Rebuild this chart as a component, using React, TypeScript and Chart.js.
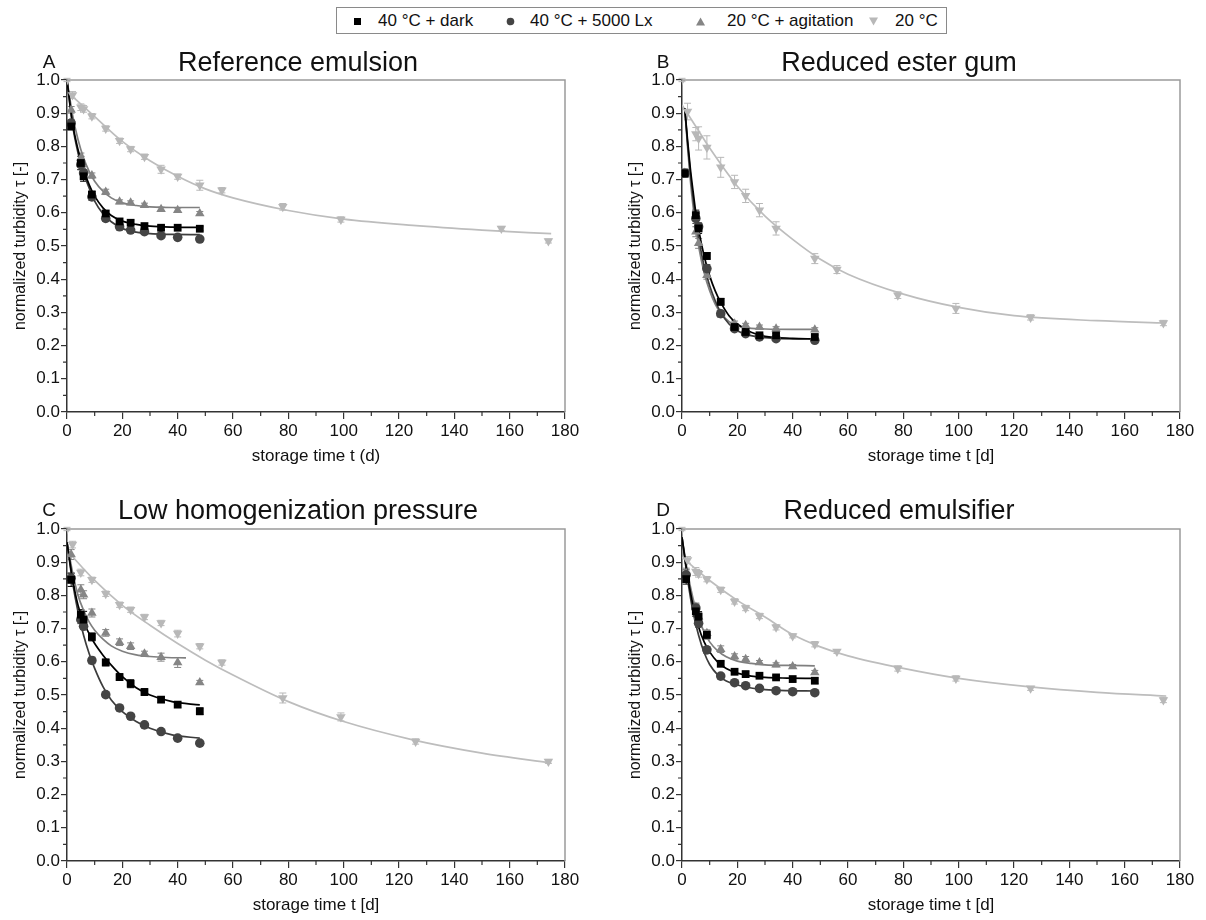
import React, { useEffect, useRef } from "react";
import { Chart, registerables } from "chart.js";
Chart.register(...registerables);

const FONT = '"Liberation Sans", Arial, Helvetica, sans-serif';

// ---------- shared ----------
const SERIES = ["40 °C + dark", "40 °C + 5000 Lx", "20 °C + agitation", "20 °C"];
const MARKER_COLORS = ["#000000", "#444444", "#858585", "#b8b8b8"];
const LINE_COLORS = ["#000000", "#3c3c3c", "#7f7f7f", "#bdbdbd"];
const POINT_STYLES = ["rect", "circle", "triangle", "triangle"];
const POINT_ROT = [0, 0, 0, 180];
const POINT_RADIUS = [5.5, 4.8, 5.5, 5.5];

const X_MIN = 0, X_MAX = 180, X_STEP = 20, X_MINOR = 10;
const Y_MIN = 0, Y_MAX = 1, Y_STEP = 0.1, Y_MINOR = 0.05;
const Y_TITLE = "normalized turbidity τ [-]";

// ---------- Panel A: Reference emulsion ----------
const A_DAYS = [1.5, 5, 6, 9, 14, 19, 23, 28, 34, 40, 48];
const A_DARK = [0.86, 0.75, 0.71, 0.655, 0.598, 0.574, 0.57, 0.56, 0.555, 0.555, 0.552];
const A_DARK_ERR = [0.01, 0.02, 0.015, 0.01, 0.008, 0.008, 0.008, 0.006, 0.006, 0.006, 0.006];
const A_LX = [0.87, 0.745, 0.72, 0.648, 0.583, 0.558, 0.548, 0.543, 0.531, 0.526, 0.521];
const A_LX_ERR = [0.01, 0.015, 0.01, 0.01, 0.008, 0.006, 0.006, 0.006, 0.006, 0.006, 0.006];
const A_AGIT = [0.91, 0.765, 0.73, 0.712, 0.663, 0.633, 0.63, 0.623, 0.611, 0.608, 0.598];
const A_AGIT_ERR = [0.01, 0.015, 0.01, 0.008, 0.008, 0.006, 0.006, 0.006, 0.006, 0.006, 0.006];
const A_LONG_DAYS = [0, 2, 5, 6, 9, 14, 19, 23, 28, 34, 40, 48, 56, 78, 99, 157, 174];
const A_20C = [1.0, 0.955, 0.918, 0.913, 0.891, 0.854, 0.817, 0.792, 0.769, 0.731, 0.709, 0.683, 0.668, 0.618, 0.58, 0.553, 0.515];
const A_20C_ERR = [0.005, 0.01, 0.01, 0.01, 0.008, 0.008, 0.008, 0.008, 0.008, 0.012, 0.008, 0.015, 0.008, 0.01, 0.008, 0.006, 0.006];
const A_FIT_DAYS = [0, 2, 4, 6, 8, 10, 13, 16, 20, 25, 30, 38, 48];
const A_FIT_DARK = [1.0, 0.87, 0.79, 0.73, 0.685, 0.65, 0.615, 0.592, 0.575, 0.565, 0.56, 0.557, 0.556];
const A_FIT_LX = [1.0, 0.865, 0.78, 0.72, 0.675, 0.635, 0.597, 0.573, 0.553, 0.542, 0.537, 0.535, 0.534];
const A_FIT_AGIT = [1.0, 0.895, 0.82, 0.765, 0.725, 0.695, 0.665, 0.645, 0.63, 0.622, 0.618, 0.616, 0.616];
const A_FIT_LONG_DAYS = [0, 10, 20, 30, 40, 50, 60, 80, 100, 125, 150, 175];
const A_FIT_20C = [0.965, 0.89, 0.815, 0.757, 0.71, 0.672, 0.645, 0.607, 0.581, 0.562, 0.548, 0.537];

// ---------- Panel B: Reduced ester gum ----------
const B_DAYS = [1, 5, 6, 9, 14, 19, 23, 28, 34, 48];
const B_DARK = [0.719, 0.593, 0.553, 0.47, 0.332, 0.256, 0.241, 0.231, 0.231, 0.226];
const B_DARK_ERR = [0.012, 0.015, 0.015, 0.01, 0.01, 0.008, 0.006, 0.006, 0.006, 0.006];
const B_LX = [0.719, 0.583, 0.558, 0.432, 0.296, 0.251, 0.236, 0.226, 0.221, 0.216];
const B_LX_ERR = [0.012, 0.015, 0.012, 0.012, 0.01, 0.006, 0.006, 0.006, 0.006, 0.006];
const B_AGIT = [0.72, 0.543, 0.508, 0.412, 0.296, 0.266, 0.261, 0.256, 0.251, 0.248];
const B_AGIT_ERR = [0.012, 0.015, 0.015, 0.012, 0.01, 0.008, 0.006, 0.006, 0.006, 0.006];
const B_LONG_DAYS = [0, 2, 5, 6, 9, 14, 19, 23, 28, 34, 48, 56, 78, 99, 126, 174];
const B_20C = [1.0, 0.905, 0.837, 0.824, 0.797, 0.737, 0.693, 0.651, 0.608, 0.553, 0.462, 0.429, 0.352, 0.312, 0.285, 0.268];
const B_20C_ERR = [0.005, 0.025, 0.02, 0.035, 0.035, 0.03, 0.02, 0.02, 0.02, 0.02, 0.015, 0.012, 0.01, 0.015, 0.008, 0.008];
const B_FIT_DAYS = [1, 2, 3, 4, 5, 6, 8, 10, 12, 14, 17, 20, 25, 30, 40, 48];
const B_FIT_DARK = [0.915, 0.82, 0.735, 0.665, 0.6, 0.55, 0.47, 0.41, 0.365, 0.33, 0.29, 0.265, 0.24, 0.228, 0.222, 0.22];
const B_FIT_LX = [0.915, 0.81, 0.72, 0.645, 0.58, 0.525, 0.44, 0.38, 0.335, 0.3, 0.265, 0.245, 0.23, 0.224, 0.22, 0.22];
const B_FIT_AGIT = [0.915, 0.8, 0.7, 0.62, 0.555, 0.5, 0.42, 0.365, 0.325, 0.298, 0.272, 0.26, 0.252, 0.25, 0.249, 0.249];
const B_FIT_LONG_DAYS = [0, 5, 10, 20, 30, 40, 50, 60, 80, 100, 120, 150, 175];
const B_FIT_20C = [0.925, 0.86, 0.795, 0.68, 0.59, 0.52, 0.46, 0.415, 0.355, 0.315, 0.29, 0.275, 0.268];

// ---------- Panel C: Low homogenization pressure ----------
const C_DAYS = [1.5, 5, 6, 9, 14, 19, 23, 28, 34, 40, 48];
const C_DARK = [0.847, 0.742, 0.727, 0.675, 0.598, 0.554, 0.534, 0.509, 0.486, 0.471, 0.451];
const C_DARK_ERR = [0.02, 0.015, 0.025, 0.012, 0.01, 0.01, 0.012, 0.01, 0.008, 0.008, 0.01];
const C_LX = [0.852, 0.727, 0.707, 0.604, 0.501, 0.461, 0.436, 0.41, 0.39, 0.37, 0.355];
const C_LX_ERR = [0.015, 0.012, 0.01, 0.01, 0.008, 0.008, 0.008, 0.006, 0.006, 0.006, 0.006];
const C_AGIT = [0.923, 0.817, 0.802, 0.747, 0.687, 0.659, 0.647, 0.624, 0.614, 0.598, 0.538];
const C_AGIT_ERR = [0.015, 0.015, 0.012, 0.012, 0.01, 0.01, 0.01, 0.008, 0.012, 0.015, 0.006];
const C_LONG_DAYS = [0, 2, 5, 9, 14, 19, 23, 28, 34, 40, 48, 56, 78, 99, 126, 174];
const C_20C = [1.0, 0.953, 0.869, 0.847, 0.805, 0.772, 0.757, 0.735, 0.717, 0.685, 0.647, 0.598, 0.491, 0.434, 0.36, 0.3];
const C_20C_ERR = [0.005, 0.01, 0.01, 0.008, 0.008, 0.008, 0.008, 0.008, 0.008, 0.01, 0.008, 0.008, 0.015, 0.012, 0.008, 0.006];
const C_FIT_DAYS = [0, 2, 4, 6, 8, 10, 13, 16, 20, 25, 30, 38, 48];
const C_FIT_DARK = [0.96, 0.85, 0.77, 0.72, 0.685, 0.655, 0.62, 0.59, 0.555, 0.522, 0.5, 0.48, 0.47];
const C_FIT_LX = [0.96, 0.84, 0.75, 0.68, 0.625, 0.58, 0.525, 0.485, 0.45, 0.42, 0.4, 0.38, 0.37];
const C_FIT_AGIT_DAYS = [0, 2, 4, 6, 8, 10, 13, 16, 20, 25, 30, 36, 43];
const C_FIT_AGIT = [0.96, 0.87, 0.8, 0.755, 0.72, 0.695, 0.668, 0.648, 0.632, 0.621, 0.616, 0.613, 0.612];
const C_FIT_LONG_DAYS = [0, 10, 20, 30, 40, 50, 60, 80, 100, 125, 150, 175];
const C_FIT_20C = [0.935, 0.845, 0.77, 0.71, 0.655, 0.605, 0.56, 0.48, 0.42, 0.365, 0.325, 0.295];

// ---------- Panel D: Reduced emulsifier ----------
const D_DAYS = [1.5, 5, 6, 9, 14, 19, 23, 28, 34, 40, 48];
const D_DARK = [0.849, 0.752, 0.736, 0.681, 0.594, 0.57, 0.563, 0.558, 0.553, 0.548, 0.543];
const D_DARK_ERR = [0.015, 0.015, 0.015, 0.012, 0.008, 0.008, 0.008, 0.006, 0.006, 0.006, 0.008];
const D_LX = [0.862, 0.762, 0.716, 0.636, 0.557, 0.537, 0.528, 0.52, 0.513, 0.51, 0.507];
const D_LX_ERR = [0.015, 0.012, 0.012, 0.01, 0.008, 0.006, 0.006, 0.006, 0.006, 0.006, 0.006];
const D_AGIT = [0.867, 0.765, 0.736, 0.686, 0.638, 0.616, 0.608, 0.598, 0.591, 0.586, 0.568];
const D_AGIT_ERR = [0.015, 0.012, 0.012, 0.01, 0.01, 0.008, 0.008, 0.006, 0.006, 0.006, 0.006];
const D_LONG_DAYS = [0, 2, 5, 6, 9, 14, 19, 23, 28, 34, 40, 48, 56, 78, 99, 126, 174];
const D_20C = [1.0, 0.907, 0.872, 0.865, 0.849, 0.817, 0.782, 0.762, 0.738, 0.704, 0.678, 0.653, 0.631, 0.58, 0.55, 0.52, 0.485];
const D_20C_ERR = [0.005, 0.01, 0.012, 0.01, 0.008, 0.008, 0.008, 0.008, 0.008, 0.008, 0.006, 0.008, 0.006, 0.008, 0.008, 0.006, 0.008];
const D_FIT_DAYS = [0, 2, 4, 6, 8, 10, 13, 16, 20, 25, 30, 38, 48];
const D_FIT_DARK = [0.975, 0.86, 0.77, 0.705, 0.66, 0.63, 0.598, 0.58, 0.566, 0.557, 0.553, 0.551, 0.55];
const D_FIT_LX = [0.975, 0.85, 0.75, 0.68, 0.628, 0.592, 0.56, 0.542, 0.53, 0.521, 0.516, 0.513, 0.512];
const D_FIT_AGIT = [0.975, 0.87, 0.79, 0.73, 0.69, 0.66, 0.632, 0.615, 0.602, 0.595, 0.591, 0.589, 0.588];
const D_FIT_LONG_DAYS = [0, 10, 20, 30, 40, 50, 60, 80, 100, 125, 150, 175];
const D_FIT_20C = [0.915, 0.845, 0.785, 0.735, 0.682, 0.645, 0.618, 0.58, 0.55, 0.525, 0.508, 0.497];

const xy = (xs: number[], ys: number[]) => xs.map((x, i) => ({ x, y: ys[i] }));

type Series = { x: number[]; y: number[]; e: number[] };
type Fit = { x: number[]; y: number[] };
type PanelCfg = {
  letter: string; title: string; xTitle: string;
  left: number; top: number; width: number; height: number;
  padRight: number; axisH: number; titlePadB: number;
  titleCx: number; titleCy: number; letterCx: number;
  series: Series[]; fits: Fit[];
};

const PANELS: PanelCfg[] = [
  {
    letter: "A", title: "Reference emulsion", xTitle: "storage time t (d)",
    left: 0, top: 40, width: 603, height: 432, padRight: 38, axisH: 60, titlePadB: 5,
    titleCx: 298, titleCy: 62, letterCx: 49,
    series: [
      { x: A_DAYS, y: A_DARK, e: A_DARK_ERR },
      { x: A_DAYS, y: A_LX, e: A_LX_ERR },
      { x: A_DAYS, y: A_AGIT, e: A_AGIT_ERR },
      { x: A_LONG_DAYS, y: A_20C, e: A_20C_ERR },
    ],
    fits: [
      { x: A_FIT_DAYS, y: A_FIT_DARK }, { x: A_FIT_DAYS, y: A_FIT_LX },
      { x: A_FIT_DAYS, y: A_FIT_AGIT }, { x: A_FIT_LONG_DAYS, y: A_FIT_20C },
    ],
  },
  {
    letter: "B", title: "Reduced ester gum", xTitle: "storage time t [d]",
    left: 615, top: 40, width: 591, height: 432, padRight: 26, axisH: 60, titlePadB: 5,
    titleCx: 899, titleCy: 62, letterCx: 663,
    series: [
      { x: B_DAYS, y: B_DARK, e: B_DARK_ERR },
      { x: B_DAYS, y: B_LX, e: B_LX_ERR },
      { x: B_DAYS, y: B_AGIT, e: B_AGIT_ERR },
      { x: B_LONG_DAYS, y: B_20C, e: B_20C_ERR },
    ],
    fits: [
      { x: B_FIT_DAYS, y: B_FIT_DARK }, { x: B_FIT_DAYS, y: B_FIT_LX },
      { x: B_FIT_DAYS, y: B_FIT_AGIT }, { x: B_FIT_LONG_DAYS, y: B_FIT_20C },
    ],
  },
  {
    letter: "C", title: "Low homogenization pressure", xTitle: "storage time t [d]",
    left: 0, top: 489, width: 603, height: 430, padRight: 38, axisH: 58, titlePadB: 3,
    titleCx: 298, titleCy: 510, letterCx: 49,
    series: [
      { x: C_DAYS, y: C_DARK, e: C_DARK_ERR },
      { x: C_DAYS, y: C_LX, e: C_LX_ERR },
      { x: C_DAYS, y: C_AGIT, e: C_AGIT_ERR },
      { x: C_LONG_DAYS, y: C_20C, e: C_20C_ERR },
    ],
    fits: [
      { x: C_FIT_DAYS, y: C_FIT_DARK }, { x: C_FIT_DAYS, y: C_FIT_LX },
      { x: C_FIT_AGIT_DAYS, y: C_FIT_AGIT }, { x: C_FIT_LONG_DAYS, y: C_FIT_20C },
    ],
  },
  {
    letter: "D", title: "Reduced emulsifier", xTitle: "storage time t [d]",
    left: 615, top: 489, width: 591, height: 430, padRight: 26, axisH: 58, titlePadB: 3,
    titleCx: 899, titleCy: 510, letterCx: 663,
    series: [
      { x: D_DAYS, y: D_DARK, e: D_DARK_ERR },
      { x: D_DAYS, y: D_LX, e: D_LX_ERR },
      { x: D_DAYS, y: D_AGIT, e: D_AGIT_ERR },
      { x: D_LONG_DAYS, y: D_20C, e: D_20C_ERR },
    ],
    fits: [
      { x: D_FIT_DAYS, y: D_FIT_DARK }, { x: D_FIT_DAYS, y: D_FIT_LX },
      { x: D_FIT_DAYS, y: D_FIT_AGIT }, { x: D_FIT_LONG_DAYS, y: D_FIT_20C },
    ],
  },
];

const framePlugin = {
  id: "frameMinor",
  afterDraw(chart: any) {
    const { ctx, chartArea, scales } = chart;
    const { left, top, right, bottom } = chartArea;
    ctx.save();
    ctx.strokeStyle = "#9a9a9a";
    ctx.lineWidth = 1.5;
    ctx.beginPath();
    ctx.moveTo(left, top);
    ctx.lineTo(right, top);
    ctx.lineTo(right, bottom);
    ctx.stroke();
    ctx.strokeStyle = "#333";
    ctx.lineWidth = 1.2;
    ctx.beginPath();
    for (let v = X_MIN + X_MINOR; v < X_MAX; v += X_STEP) {
      const px = scales.x.getPixelForValue(v);
      ctx.moveTo(px, bottom);
      ctx.lineTo(px, bottom + 4);
    }
    for (let v = Y_MIN + Y_MINOR; v < Y_MAX; v += Y_STEP) {
      const py = scales.y.getPixelForValue(v);
      ctx.moveTo(left, py);
      ctx.lineTo(left - 4, py);
    }
    ctx.stroke();
    ctx.restore();
  },
};

const errorBarPlugin = {
  id: "errorBars",
  beforeDatasetsDraw(chart: any) {
    const { ctx, scales } = chart;
    chart.data.datasets.forEach((ds: any, di: number) => {
      if (!ds.errorBars) return;
      const meta = chart.getDatasetMeta(di);
      ctx.save();
      ctx.strokeStyle = ds.borderColor;
      ctx.lineWidth = 1;
      ctx.beginPath();
      meta.data.forEach((el: any, i: number) => {
        const e = ds.errorBars[i];
        if (!e) return;
        const v = ds.data[i].y;
        const y1 = scales.y.getPixelForValue(v + e);
        const y2 = scales.y.getPixelForValue(v - e);
        const x = el.x;
        ctx.moveTo(x, y1); ctx.lineTo(x, y2);
        ctx.moveTo(x - 3.5, y1); ctx.lineTo(x + 3.5, y1);
        ctx.moveTo(x - 3.5, y2); ctx.lineTo(x + 3.5, y2);
      });
      ctx.stroke();
      ctx.restore();
    });
  },
};

function Panel({ cfg }: { cfg: PanelCfg }) {
  const ref = useRef<HTMLCanvasElement>(null);
  useEffect(() => {
    if (!ref.current) return;
    const pointSets = cfg.series.map((s, i) => ({
      type: "scatter" as const,
      label: SERIES[i],
      data: xy(s.x, s.y),
      errorBars: s.e,
      showLine: false,
      pointStyle: POINT_STYLES[i],
      rotation: POINT_ROT[i],
      pointRadius: POINT_RADIUS[i],
      backgroundColor: MARKER_COLORS[i],
      borderColor: MARKER_COLORS[i],
      borderWidth: 0,
    }));
    const fitSets = cfg.fits.map((f, i) => ({
      type: "line" as const,
      label: SERIES[i] + " fit",
      data: xy(f.x, f.y),
      showLine: true,
      pointRadius: 0,
      borderColor: LINE_COLORS[i],
      borderWidth: 1.7,
      cubicInterpolationMode: "monotone" as const,
      fill: false,
    }));
    const tickFont = { family: FONT, size: 17 };
    const yTitleFont = { family: FONT, size: 16 };
    const chart = new Chart(ref.current, {
      type: "scatter",
      data: { datasets: [...pointSets, ...fitSets] as any },
      options: {
        animation: false,
        responsive: false,
        layout: { padding: { top: 40, right: cfg.padRight, left: 0, bottom: 0 } },
        plugins: { legend: { display: false }, tooltip: { enabled: false }, title: { display: false } },
        scales: {
          x: {
            type: "linear", min: X_MIN, max: X_MAX,
            ticks: { stepSize: X_STEP, font: tickFont, color: "#111", padding: 2, maxRotation: 0 },
            grid: { drawOnChartArea: false, drawTicks: true, tickLength: 7, color: "#333", lineWidth: 1.2 },
            border: { color: "#333", width: 1.5 },
            title: { display: true, text: cfg.xTitle, font: tickFont, color: "#111", padding: { top: 0, bottom: cfg.titlePadB } },
            afterFit: (s: any) => { s.height = cfg.axisH; },
          },
          y: {
            type: "linear", min: Y_MIN, max: Y_MAX,
            ticks: { stepSize: Y_STEP, font: tickFont, color: "#111", padding: 1, callback: (v: any) => Number(v).toFixed(1) },
            grid: { drawOnChartArea: false, drawTicks: true, tickLength: 6, color: "#333", lineWidth: 1.2 },
            border: { color: "#333", width: 1.5 },
            title: { display: true, text: Y_TITLE, font: yTitleFont, color: "#111", padding: { top: 11, bottom: 0 } },
            afterFit: (s: any) => { s.width = 67; },
          },
        },
      } as any,
      plugins: [errorBarPlugin, framePlugin],
    });
    return () => chart.destroy();
  }, [cfg]);
  return (
    <>
      <canvas
        ref={ref}
        width={cfg.width}
        height={cfg.height}
        style={{ position: "absolute", left: cfg.left, top: cfg.top, width: cfg.width, height: cfg.height }}
      />
      <div style={{ position: "absolute", left: cfg.letterCx, top: cfg.titleCy, transform: "translate(-50%,-50%)", fontFamily: FONT, fontSize: 19, color: "#111", whiteSpace: "nowrap" }}>
        {cfg.letter}
      </div>
      <div style={{ position: "absolute", left: cfg.titleCx, top: cfg.titleCy, transform: "translate(-50%,-50%)", fontFamily: FONT, fontSize: 27, color: "#111", whiteSpace: "nowrap" }}>
        {cfg.title}
      </div>
    </>
  );
}

const LEGEND_MARKER_X = [357, 510, 700, 873];
const LEGEND_TEXT_X = [378, 530, 727, 895];

function Marker({ i }: { i: number }) {
  const c = MARKER_COLORS[i];
  let shape: any;
  if (i === 0) shape = <rect x={2} y={2} width={7} height={7} fill={c} />;
  else if (i === 1) shape = <circle cx={5.5} cy={5.5} r={3.8} fill={c} />;
  else if (i === 2) shape = <polygon points="5.5,1.5 10,9.5 1,9.5" fill={c} />;
  else shape = <polygon points="1,1.5 10,1.5 5.5,9.5" fill={c} />;
  return <svg width={11} height={11}>{shape}</svg>;
}

export default function App() {
  return (
    <div style={{ position: "absolute", left: 0, top: 0, width: 1206, height: 920, overflow: "hidden", background: "#fff" }}>
      <div style={{ position: "absolute", left: 336, top: 7, width: 611, height: 27, border: "1px solid #8a8a8a", boxSizing: "border-box" }} />
      {SERIES.map((s, i) => (
        <React.Fragment key={s}>
          <div style={{ position: "absolute", left: LEGEND_MARKER_X[i] - 5.5, top: 15.5, width: 11, height: 11, lineHeight: 0 }}>
            <Marker i={i} />
          </div>
          <div style={{ position: "absolute", left: LEGEND_TEXT_X[i], top: 21, transform: "translateY(-50%)", fontFamily: FONT, fontSize: 17, color: "#111", whiteSpace: "nowrap" }}>
            {s}
          </div>
        </React.Fragment>
      ))}
      {PANELS.map((p) => (
        <Panel key={p.letter} cfg={p} />
      ))}
    </div>
  );
}
